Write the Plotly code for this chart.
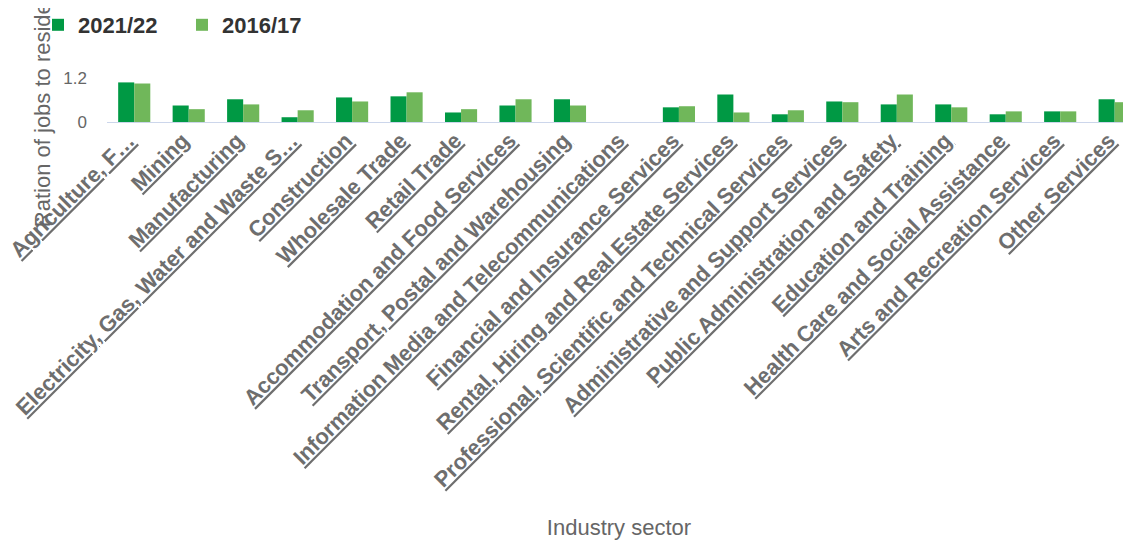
import plotly.graph_objects as go

categories = [
    "Agriculture, Forestry and Fishing", "Mining", "Manufacturing",
    "Electricity, Gas, Water and Waste Services", "Construction", "Wholesale Trade",
    "Retail Trade", "Accommodation and Food Services", "Transport, Postal and Warehousing",
    "Information Media and Telecommunications", "Financial and Insurance Services",
    "Rental, Hiring and Real Estate Services", "Professional, Scientific and Technical Services",
    "Administrative and Support Services", "Public Administration and Safety",
    "Education and Training", "Health Care and Social Assistance",
    "Arts and Recreation Services", "Other Services",
]
tick_labels = [
    "Agriculture, F…", "Mining", "Manufacturing",
    "Electricity, Gas, Water and Waste S…", "Construction", "Wholesale Trade",
    "Retail Trade", "Accommodation and Food Services", "Transport, Postal and Warehousing",
    "Information Media and Telecommunications", "Financial and Insurance Services",
    "Rental, Hiring and Real Estate Services", "Professional, Scientific and Technical Services",
    "Administrative and Support Services", "Public Administration and Safety",
    "Education and Training", "Health Care and Social Assistance",
    "Arts and Recreation Services", "Other Services",
]
values_2021_22 = [1.08, 0.45, 0.62, 0.13, 0.67, 0.70, 0.26, 0.45, 0.62, None,
                  0.40, 0.75, 0.21, 0.56, 0.48, 0.48, 0.21, 0.29, 0.62]
values_2016_17 = [1.05, 0.35, 0.48, 0.32, 0.56, 0.81, 0.35, 0.62, 0.45, None,
                  0.43, 0.26, 0.32, 0.54, 0.75, 0.40, 0.29, 0.29, 0.54]
y_ticks = [0, 1.2]
y_tick_labels = ["0", "1.2"]

# the page body adds an 8px margin, so the figure is offset by it
W, H = 1123, 532
L, R, T, B = 99, 0, 70, 418
plot_w = W - L - R
plot_h = H - T - B

fig = go.Figure()
fig.add_trace(go.Bar(name="2021/22", x=categories, y=values_2021_22,
                     marker=dict(color="#009944", line=dict(width=0))))
fig.add_trace(go.Bar(name="2016/17", x=categories, y=values_2016_17,
                     marker=dict(color="#70B75A", line=dict(width=0))))

fig.update_layout(
    width=W, height=H,
    margin=dict(l=L, r=R, t=T, b=B, autoexpand=False),
    paper_bgcolor="white", plot_bgcolor="white",
    barmode="group", bargap=0.41, bargroupgap=0,
    font=dict(family="Liberation Sans, Arial, sans-serif", color="#666666"),
    showlegend=True,
    legend=dict(
        orientation="h", x=(30 - L) / plot_w, xanchor="left",
        y=1 + (T - 17) / plot_h, yanchor="middle",
        font=dict(size=22, color="#333333", weight="bold"),
        entrywidth=99, entrywidthmode="pixels",
        bgcolor="rgba(0,0,0,0)", borderwidth=0,
    ),
    xaxis=dict(
        type="category", range=[-0.5, 18.3],
        tickmode="array", tickvals=categories, ticktext=tick_labels,
        tickangle=-45, automargin=False,
        tickfont=dict(size=22, color="#6E6E6E", weight="bold", lineposition="under"),
        ticklabelshift=-6, ticklabelstandoff=-4,
        showline=True, linecolor="#CCD6EB", linewidth=1,
        ticks="", showgrid=False,
        title=dict(text="Industry sector", font=dict(size=22, color="#666666"), standoff=33),
    ),
    yaxis=dict(
        range=[0, 1.2], tickmode="array", tickvals=y_ticks, ticktext=y_tick_labels,
        tickfont=dict(size=17, color="#666666"),
        showgrid=True, gridcolor="#E6E6E6", gridwidth=1,
        zeroline=False, automargin=False, ticklabelstandoff=19,
        title=dict(text="Ration of jobs to residents", font=dict(size=22, color="#666666"), standoff=6),
    ),
)

fig.write_html("out.html")
